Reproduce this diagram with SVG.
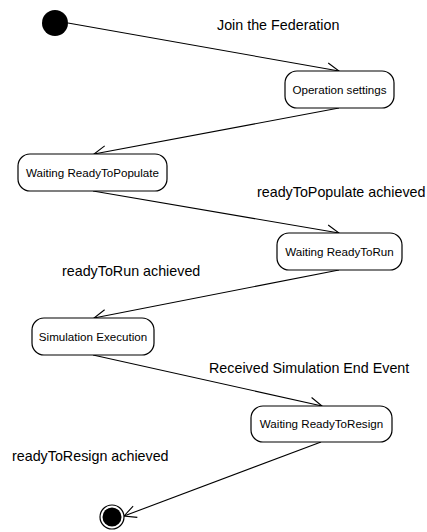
<svg xmlns="http://www.w3.org/2000/svg" width="427" height="532" viewBox="0 0 427 532">
<style>
.st{fill:#fff;stroke:#000;stroke-width:1.2}
.bt{font-family:"Liberation Sans",Arial,sans-serif;font-size:11.6px;fill:#000;text-anchor:middle}
.lb{font-family:"Liberation Sans",Arial,sans-serif;font-size:14.3px;fill:#000}
.ln{fill:none;stroke:#000;stroke-width:1.1}
</style>
<defs>
<marker id="arr" markerUnits="userSpaceOnUse" markerWidth="16" markerHeight="14" refX="13" refY="7" orient="auto" overflow="visible">
<path d="M1,1 L13,7 L1,13" fill="none" stroke="#000" stroke-width="1.1"/>
</marker>
</defs>
<rect width="427" height="532" fill="#fff"/>
<g id="connectors">
<line class="ln" x1="68" y1="23" x2="339" y2="71" marker-end="url(#arr)"/>
<line class="ln" x1="339" y1="108" x2="94" y2="154" marker-end="url(#arr)"/>
<line class="ln" x1="93" y1="191" x2="339" y2="233" marker-end="url(#arr)"/>
<line class="ln" x1="339" y1="270" x2="94" y2="318" marker-end="url(#arr)"/>
<line class="ln" x1="93" y1="355" x2="322" y2="406" marker-end="url(#arr)"/>
<line class="ln" x1="321" y1="442" x2="124" y2="516" marker-end="url(#arr)"/>
</g>
<g id="labels">
<text class="lb" x="217" y="30">Join the Federation</text>
<text class="lb" x="257" y="197">readyToPopulate achieved</text>
<text class="lb" x="62" y="276">readyToRun achieved</text>
<text class="lb" x="209" y="373">Received Simulation End Event</text>
<text class="lb" x="12" y="461">readyToResign achieved</text>
</g>
<g id="initial">
<circle cx="55" cy="23" r="13" fill="#000"/>
</g>
<g id="operation-settings">
<rect class="st" x="285" y="71" width="109" height="37" rx="12"/>
<text class="bt" x="339.5" y="93.5">Operation settings</text>
</g>
<g id="waiting-ready-to-populate">
<rect class="st" x="18" y="154" width="149" height="37" rx="12"/>
<text class="bt" x="92.5" y="176.5">Waiting ReadyToPopulate</text>
</g>
<g id="waiting-ready-to-run">
<rect class="st" x="277" y="233" width="125" height="37" rx="12"/>
<text class="bt" x="339.5" y="255.5">Waiting ReadyToRun</text>
</g>
<g id="simulation-execution">
<rect class="st" x="32" y="318" width="122" height="37" rx="12"/>
<text class="bt" x="93" y="340.5">Simulation Execution</text>
</g>
<g id="waiting-ready-to-resign">
<rect class="st" x="251" y="406" width="141" height="36" rx="12"/>
<text class="bt" x="321.5" y="428">Waiting ReadyToResign</text>
</g>
<g id="final">
<circle cx="112" cy="517" r="12" fill="#fff" stroke="#000" stroke-width="1.2"/>
<circle cx="112" cy="517" r="9.5" fill="#000"/>
</g>
</svg>
